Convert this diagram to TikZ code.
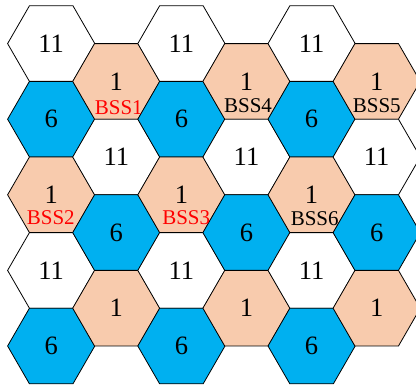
\documentclass[tikz,border=0pt]{standalone}
\usepackage{fontspec}
\setmainfont{Liberation Serif}
\usetikzlibrary{shapes.geometric}
\definecolor{peach}{HTML}{F8CBAD}
\definecolor{cellblue}{HTML}{00B0F0}
\definecolor{bssred}{HTML}{FF0000}
\begin{document}
\begin{tikzpicture}[x=1pt,y=-1pt,
  hex/.style={regular polygon, regular polygon sides=6, minimum size=87.2pt,
    inner sep=0pt, outer sep=0pt, draw=black, line width=0.8pt,
    font=\fontsize{26.5}{26.5}\selectfont},
  wcell/.style={hex, fill=white},
  bcell/.style={hex, fill=cellblue},
  ocell/.style={hex, fill=peach},
  bss/.style={font=\fontsize{21}{21}\selectfont, inner sep=0pt},
  redbss/.style={bss, text=bssred}]
\useasboundingbox (0,0) rectangle (416,388);
% column 1
\node[wcell] (c1r1) at (51.2,43.6) {11};
\node[bcell] (c1r2) at (51.2,119.2) {6};
\node[ocell] (c1r3) at (51.2,194.8) {1};
\node[wcell] (c1r4) at (51.2,270.4) {11};
\node[bcell] (c1r5) at (51.2,346) {6};
% column 2
\node[ocell] (c2r1) at (116.3,81.4) {1};
\node[wcell] (c2r2) at (116.3,157) {11};
\node[bcell] (c2r3) at (116.3,232.6) {6};
\node[ocell] (c2r4) at (116.3,308.2) {1};
% column 3
\node[wcell] (c3r1) at (181.4,43.6) {11};
\node[bcell] (c3r2) at (181.4,119.2) {6};
\node[ocell] (c3r3) at (181.4,194.8) {1};
\node[wcell] (c3r4) at (181.4,270.4) {11};
\node[bcell] (c3r5) at (181.4,346) {6};
% column 4
\node[ocell] (c4r1) at (246.5,81.4) {1};
\node[wcell] (c4r2) at (246.5,157) {11};
\node[bcell] (c4r3) at (246.5,232.6) {6};
\node[ocell] (c4r4) at (246.5,308.2) {1};
% column 5
\node[wcell] (c5r1) at (311.6,43.6) {11};
\node[bcell] (c5r2) at (311.6,119.2) {6};
\node[ocell] (c5r3) at (311.6,194.8) {1};
\node[wcell] (c5r4) at (311.6,270.4) {11};
\node[bcell] (c5r5) at (311.6,346) {6};
% column 6
\node[ocell] (c6r1) at (376.7,81.4) {1};
\node[wcell] (c6r2) at (376.7,157) {11};
\node[bcell] (c6r3) at (376.7,232.6) {6};
\node[ocell] (c6r4) at (376.7,308.2) {1};
% BSS labels
\node[redbss] (bss1) at (118.8,107.8) {BSS1};
\node[redbss] (bss2) at (50.8,217.2) {BSS2};
\node[redbss] (bss3) at (186.2,217.8) {BSS3};
\node[bss] (bss4) at (248,105.5) {BSS4};
\node[bss] (bss5) at (376.8,105.5) {BSS5};
\node[bss] (bss6) at (314.7,219) {BSS6};
\end{tikzpicture}
\end{document}
